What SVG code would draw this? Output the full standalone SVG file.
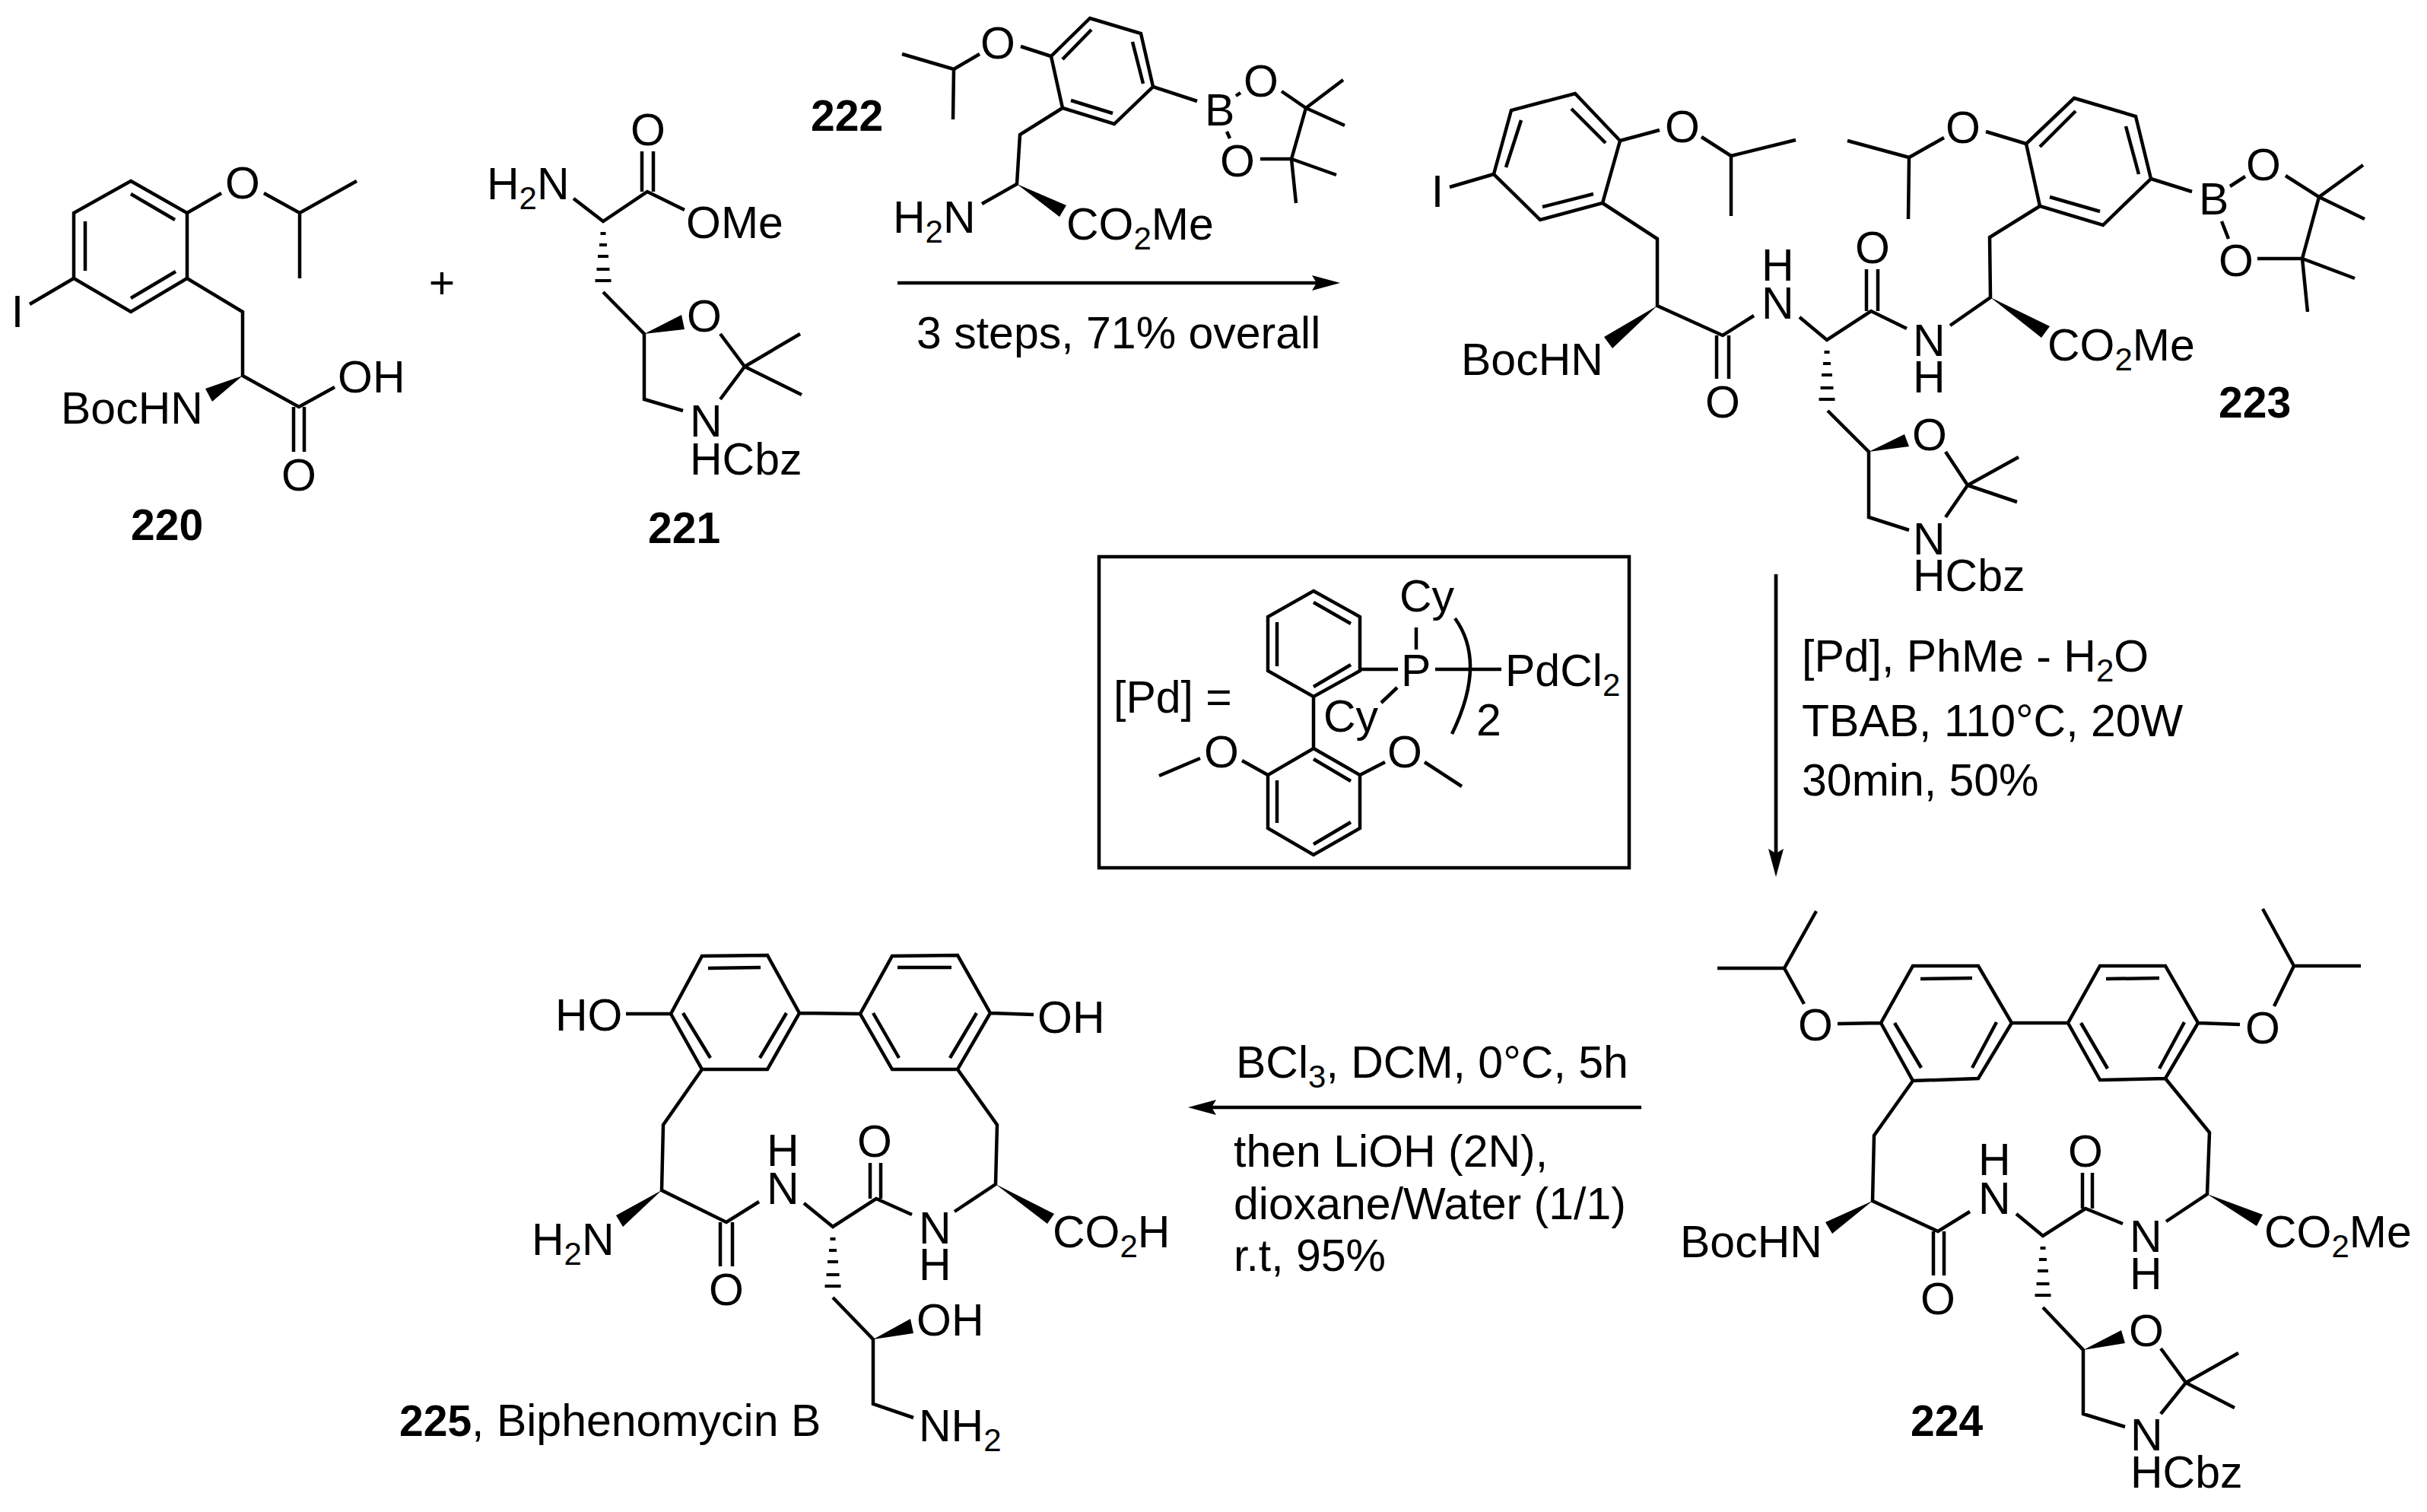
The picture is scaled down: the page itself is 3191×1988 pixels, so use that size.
<svg xmlns="http://www.w3.org/2000/svg" xmlns:xlink="http://www.w3.org/1999/xlink" width="3191" height="1988" viewBox="0 0 3191 1988">
<style>
text{font-family:"Liberation Sans",Arial,sans-serif;font-size:59px;fill:#000}
.m{text-anchor:middle}
.l{font-weight:bold;font-size:57px}
.s{font-size:42px}
.b{fill:none;stroke:#000;stroke-width:4.5;stroke-linejoin:miter}
.w{fill:#000;stroke:none}
.a{fill:none;stroke:#000;stroke-width:4.7}
</style>
<defs>
<marker id="ah" markerUnits="userSpaceOnUse" markerWidth="37" markerHeight="20" viewBox="0 0 37 20" refX="7" refY="10" orient="auto"><path d="M0 0L37 10L0 20L6 10Z" fill="#000"/></marker>
<g id="hash" stroke="#000" stroke-width="4"><path d="M-3.5 16H3.5M-5 31H5M-7 46H7M-8.5 63H8.5M-10.5 78H10.5"/></g>
</defs>
<rect width="3191" height="1988" fill="#fff"/>

<g id="c220">
<path class="b" d="M172 238L246 280L246 366L172 410L97 366L97 280ZM172 255L230 289M112 291L112 356M172 392L231 357M246 280L291 254M347 254L394 280L469 238M394 280L394 366M97 366L39 400M246 366L319 410L319 494L393 535L440 509M386 535L386 594M400 535L400 594"/>
<path class="w" d="M319 494L270 511L279 528Z"/>
<text class="m" x="319" y="261">O</text>
<text class="m" x="23" y="430">I</text>
<text x="444" y="516">OH</text>
<text x="80" y="557">BocHN</text>
<text class="m" x="393" y="645">O</text>
<text class="l" x="172" y="710">220</text>
</g>
<text id="plus" class="m" x="581" y="392">+</text>

<g id="c221">
<path class="b" d="M844 199L844 252M859 199L859 252M900 276L851 252L793 291L754 261M793 384L847 439L847 525L898 540M947 439L979 482L947 525M979 482L1052 439M979 482L1054 519"/>
<use xlink:href="#hash" href="#hash" x="793" y="291"/>
<path class="w" d="M847 439L896 414L900 433Z"/>
<text class="m" x="852" y="191">O</text>
<text x="640" y="262">H<tspan class="s" dy="13">2</tspan><tspan dy="-13">N</tspan></text>
<text x="902" y="313">OMe</text>
<text class="m" x="926" y="436">O</text>
<text x="907" y="574">N</text>
<text x="907" y="624">HCbz</text>
<text class="l" x="852" y="714">221</text>
</g>

<g id="c222">
<path class="b" d="M1433 24L1500 44L1516 114L1465 163L1397 142L1382 74ZM1435 39L1397 78M1489 55L1503 110M1463 149L1408 132M1382 74L1342 61M1288 71L1254 91L1186 71M1254 91L1253 157M1397 142L1341 177L1337 242L1291 268M1516 114L1574 133M1631 122L1625 126M1613 173L1617 182M1685 120L1717 142L1766 105M1717 142L1768 165M1717 142L1698 209L1657 209M1698 209L1757 230M1698 209L1704 267"/>
<path class="w" d="M1337 242L1402 270L1393 285Z"/>
<text class="l" x="1066" y="172">222</text>
<text class="m" x="1312" y="77">O</text>
<text x="1174" y="306">H<tspan class="s" dy="13">2</tspan><tspan dy="-13">N</tspan></text>
<text x="1402" y="315">CO<tspan class="s" dy="13">2</tspan><tspan dy="-13">Me</tspan></text>
<text x="1584" y="165">B</text>
<text class="m" x="1658" y="127">O</text>
<text class="m" x="1627" y="232">O</text>
</g>

<g id="c223">
<path class="b" d="M2071 123L2130 185L2107 267L2025 289L1964 229L1987 145ZM2066 143L2111 188M2000 158L1980 220M2028 272L2095 255M1964 229L1906 246M2130 185L2182 171M2237 180L2276 205L2361 184M2276 205L2276 284M2107 267L2179 314L2179 402L2265 441L2306 415M2257 441L2257 498M2273 441L2273 498M2366 417L2402 447L2460 409L2507 432M2454 354L2454 409M2469 354L2469 409M2564 428L2617 391L2616 312L2682 271M2727 129L2808 153L2828 235L2765 296L2682 271L2664 189ZM2729 146L2682 193M2795 166L2812 229M2761 278L2695 259M2664 189L2611 173M2556 181L2510 207L2429 185M2510 207L2509 288M2828 235L2882 252M2932 245L2952 232M2921 291L2930 314M3005 231L3049 259L3107 217M3049 259L3109 288M3049 259L3027 340L2968 340M3027 340L3096 366M3027 340L3034 410M2403 540L2457 594L2457 680L2510 697M2558 594L2587 638L2558 680M2587 638L2654 601M2587 638L2652 660"/>
<path class="w" d="M2179 402L2109 443L2120 458ZM2617 391L2695 429L2684 444ZM2457 594L2504 571L2510 587Z"/>
<use xlink:href="#hash" href="#hash" x="2402" y="447"/>
<text x="1890" y="272" class="m">I</text>
<text class="m" x="2212" y="187">O</text>
<text x="1921" y="493">BocHN</text>
<text class="m" x="2265" y="549">O</text>
<text x="2316" y="369">H</text>
<text x="2316" y="419">N</text>
<text class="m" x="2462" y="346">O</text>
<text x="2515" y="468">N</text>
<text x="2515" y="516">H</text>
<text x="2692" y="474">CO<tspan class="s" dy="13">2</tspan><tspan dy="-13">Me</tspan></text>
<text class="m" x="2581" y="188">O</text>
<text x="2891" y="282">B</text>
<text class="m" x="2976" y="237">O</text>
<text class="m" x="2940" y="363">O</text>
<text class="m" x="2537" y="592">O</text>
<text x="2515" y="729">N</text>
<text x="2515" y="777">HCbz</text>
<text class="l" x="2917" y="549">223</text>
</g>

<g id="pd-box">
<rect x="1445" y="732" width="697" height="409" fill="none" stroke="#000" stroke-width="4.5"/>
<path class="b" d="M1727 777L1788 811L1788 882L1727 916L1667 882L1667 811ZM1727 792L1776 820M1679 818L1679 876M1727 903L1776 874M1727 916L1727 984M1727 984L1788 1019L1788 1089L1727 1124L1667 1089L1667 1019ZM1727 998L1776 1027M1679 1026L1679 1082M1727 1110L1776 1081M1667 1019L1633 1000M1578 997L1524 1020M1788 1019L1821 1002M1873 1002L1922 1034M1788 880L1838 880M1862 854L1862 825M1837 904L1816 924M1887 880L1974 880M1913 813Q1955 871 1909 965"/>
<text x="1464" y="937">[Pd] =</text>
<text x="1842" y="902">P</text>
<text x="1840" y="804">Cy</text>
<text x="1740" y="962">Cy</text>
<text x="1979" y="902">PdCl<tspan class="s" dy="13">2</tspan></text>
<text x="1941" y="967">2</text>
<text class="m" x="1606" y="1009">O</text>
<text class="m" x="1847" y="1009">O</text>
</g>

<g id="c224">
<path class="b" d="M2515 1270L2601 1270L2645 1345L2601 1418L2515 1421L2473 1345ZM2525 1287L2593 1286M2625 1344L2593 1404M2491 1345L2526 1404M2761 1270L2847 1270L2890 1345L2847 1418L2761 1420L2719 1345ZM2769 1287L2839 1286M2872 1344L2839 1405M2736 1345L2771 1405M2645 1345L2719 1345M2473 1345L2416 1346M2372 1320L2346 1273L2388 1198M2346 1273L2258 1273M2890 1345L2945 1347M2990 1323L3016 1270L2975 1195M3016 1270L3104 1270M2515 1421L2464 1493L2462 1579L2548 1619L2590 1593M2542 1619L2542 1677M2556 1619L2556 1677M2651 1596L2686 1625L2742 1589L2791 1609M2738 1542L2738 1589M2751 1542L2751 1589M2848 1606L2902 1570L2905 1489L2847 1418M2686 1719L2739 1775L2739 1859L2794 1876M2841 1773L2874 1818L2841 1859M2874 1818L2943 1779M2874 1818L2938 1851"/>
<path class="w" d="M2462 1579L2400 1607L2409 1622ZM2902 1570L2975 1597L2967 1612ZM2739 1775L2789 1749L2794 1766Z"/>
<use xlink:href="#hash" href="#hash" x="2686" y="1625"/>
<text class="m" x="2387" y="1368">O</text>
<text class="m" x="2975" y="1372">O</text>
<text x="2209" y="1653">BocHN</text>
<text class="m" x="2548" y="1728">O</text>
<text x="2601" y="1545">H</text>
<text x="2601" y="1596">N</text>
<text class="m" x="2742" y="1534">O</text>
<text x="2800" y="1646">N</text>
<text x="2800" y="1695">H</text>
<text x="2977" y="1640">CO<tspan class="s" dy="13">2</tspan><tspan dy="-13">Me</tspan></text>
<text class="m" x="2822" y="1770">O</text>
<text x="2801" y="1907">N</text>
<text x="2801" y="1956">HCbz</text>
<text class="l" x="2512" y="1888">224</text>
</g>

<g id="c225">
<path class="b" d="M923 1257L1009 1256L1051 1332L1009 1406L923 1406L882 1333ZM931 1273L1000 1272M1034 1332L999 1391M898 1332L934 1391M1173 1257L1259 1256L1302 1332L1259 1406L1173 1406L1131 1333ZM1180 1272L1251 1272M1284 1332L1249 1391M1148 1332L1182 1391M1051 1332L1131 1333M882 1333L823 1333M1302 1332L1359 1334M923 1406L872 1479L870 1565L955 1607L998 1580M947 1607L947 1665M963 1607L963 1665M1057 1582L1095 1613L1152 1576L1199 1597M1144 1529L1144 1576M1158 1529L1158 1576M1255 1593L1309 1557L1311 1479L1259 1406M1095 1706L1148 1761L1148 1846L1201 1864"/>
<path class="w" d="M870 1565L810 1598L819 1613ZM1309 1557L1386 1596L1377 1609ZM1148 1761L1197 1734L1201 1753Z"/>
<use xlink:href="#hash" href="#hash" x="1095" y="1613"/>
<text x="730" y="1355">HO</text>
<text x="1364" y="1358">OH</text>
<text x="699" y="1650">H<tspan class="s" dy="13">2</tspan><tspan dy="-13">N</tspan></text>
<text class="m" x="955" y="1716">O</text>
<text x="1008" y="1533">H</text>
<text x="1008" y="1583">N</text>
<text class="m" x="1150" y="1521">O</text>
<text x="1208" y="1635">N</text>
<text x="1208" y="1683">H</text>
<text x="1384" y="1640">CO<tspan class="s" dy="13">2</tspan><tspan dy="-13">H</tspan></text>
<text x="1205" y="1756">OH</text>
<text x="1208" y="1895">NH<tspan class="s" dy="13">2</tspan></text>
<text x="525" y="1888"><tspan class="l">225</tspan><tspan>, Biphenomycin B</tspan></text>
</g>

<g id="connectors">
<path class="a" marker-end="url(#ah)" d="M1180 372L1732 372"/>
<path class="a" stroke-width="4" d="M2335 755L2335 1123" marker-end="url(#ah)"/>
<path class="a" marker-end="url(#ah)" d="M2158 1456L1592 1456"/>
</g>

<g id="reagents">
<text x="1205" y="458">3 steps, 71% overall</text>
<text x="2369" y="883">[Pd], PhMe - H<tspan class="s" dy="13">2</tspan><tspan dy="-13">O</tspan></text>
<text x="2369" y="968">TBAB, 110°C, 20W</text>
<text x="2369" y="1046">30min, 50%</text>
<text x="1625" y="1417">BCl<tspan class="s" dy="13">3</tspan><tspan dy="-13">, DCM, 0°C, 5h</tspan></text>
<text x="1622" y="1534">then LiOH (2N),</text>
<text x="1622" y="1603">dioxane/Water (1/1)</text>
<text x="1622" y="1671">r.t, 95%</text>
</g>
</svg>
